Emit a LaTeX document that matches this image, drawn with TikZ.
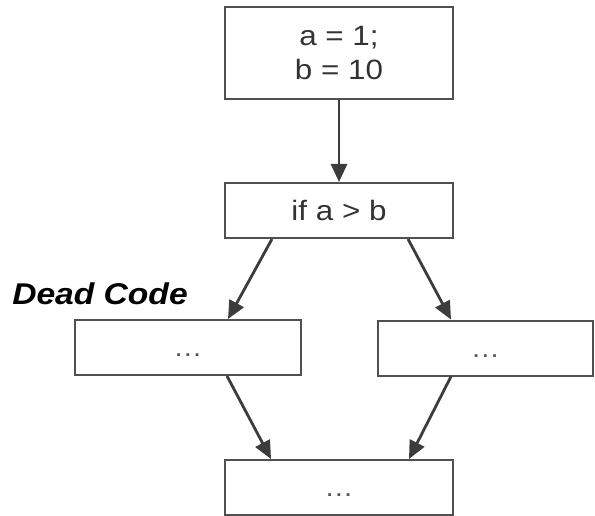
\documentclass[tikz,border=0pt]{standalone}
\usepackage{fontspec}
\usetikzlibrary{arrows.meta}
\newfontfamily\boxfont[FakeStretch=1.12]{Liberation Sans}
\definecolor{BoxLine}{HTML}{505050}
\definecolor{ArrowLine}{HTML}{3C3C3C}
\definecolor{CodeText}{HTML}{333333}
\definecolor{DotText}{HTML}{555555}

\begin{document}
\begin{tikzpicture}[x=1pt,y=-1pt,
        block/.style={draw=BoxLine, line width=2pt, rectangle, inner sep=0pt,
                      text=CodeText, font=\boxfont\fontsize{28}{34}\selectfont},
        dots/.style={text=DotText, font=\boxfont\fontsize{26}{30}\selectfont},
        flow/.style={draw=ArrowLine, line width=2.8pt, -{Triangle[length=18pt,width=16pt]}}]
        \useasboundingbox (0,0) rectangle (595,516);
        \node[block, minimum width=228pt, minimum height=92pt, align=center] (init) at (339,53) {a = 1;\\b = 10};
        \node[block, minimum width=228pt, minimum height=55pt] (cond) at (339,210.5) {if a > b};
        \node[block, minimum width=226pt, minimum height=55pt] (dead) at (188,347.5) {};
        \node[block, minimum width=215pt, minimum height=55pt] (live) at (485.5,348) {};
        \node[block, minimum width=228pt, minimum height=55pt] (join) at (339,487.5) {};
        \node[dots, yshift=-8pt] at (dead) {…};
        \node[dots, yshift=-8pt] at (live) {…};
        \node[dots, yshift=-8pt] at (join) {…};
        \node[text=black, font=\boxfont\fontsize{30}{36}\selectfont\bfseries\itshape] (deadlabel) at (100,294) {Dead Code};
        \draw[flow] (init.south) -- (cond.north);
        \draw[flow] ([xshift=48]cond.south west) -- ([xshift=-74]dead.north east);
        \draw[flow] ([xshift=-46]cond.south east) -- ([xshift=74]live.north west);
        \draw[flow] ([xshift=153]dead.south west) -- ([xshift=47]join.north west);
        \draw[flow] ([xshift=74]live.south west) -- ([xshift=-45]join.north east);
\end{tikzpicture}
\end{document}
